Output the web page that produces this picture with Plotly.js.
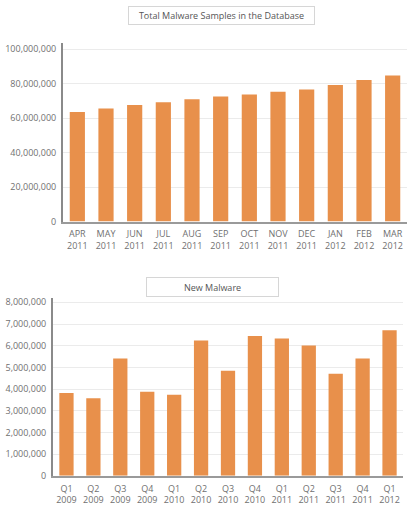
<!DOCTYPE html>
<html>
<head>
<meta charset="utf-8">
<script src="https://cdn.plot.ly/plotly-3.0.1.min.js"></script>
<style>
  html, body { margin: 0; padding: 0; background: #fff; }
  #chart { width: 412px; height: 508px; }
</style>
</head>
<body>
<div id="chart"></div>
<script>
// Monthly totals of malware samples in the database
const monthLabels = ["APR<br>2011", "MAY<br>2011", "JUN<br>2011", "JUL<br>2011", "AUG<br>2011", "SEP<br>2011",
                     "OCT<br>2011", "NOV<br>2011", "DEC<br>2011", "JAN<br>2012", "FEB<br>2012", "MAR<br>2012"];
const totalSamples = [63500000, 65500000, 67600000, 69200000, 70900000, 72500000,
                      73600000, 75200000, 76500000, 79200000, 82100000, 84600000];

// Quarterly counts of new malware
const quarterLabels = ["Q1<br>2009", "Q2<br>2009", "Q3<br>2009", "Q4<br>2009", "Q1<br>2010", "Q2<br>2010",
                       "Q3<br>2010", "Q4<br>2010", "Q1<br>2011", "Q2<br>2011", "Q3<br>2011", "Q4<br>2011", "Q1<br>2012"];
const newMalware = [3820000, 3570000, 5410000, 3870000, 3730000, 6240000,
                    4840000, 6450000, 6330000, 6010000, 4700000, 5410000, 6710000];

const topTicks = [0, 20000000, 40000000, 60000000, 80000000, 100000000];
const bottomTicks = [0, 1000000, 2000000, 3000000, 4000000, 5000000, 6000000, 7000000, 8000000];

const barColor = "#E8904B";
const textColor = "#707070";
const fontFamily = "Open Sans, Noto Sans, sans-serif";

const fmt = v => v.toLocaleString("en-US");

const traces = [
  {
    type: "bar", x: monthLabels, y: totalSamples,
    xaxis: "x", yaxis: "y",
    marker: { color: barColor }, hoverinfo: "skip"
  },
  {
    type: "bar", x: quarterLabels, y: newMalware,
    xaxis: "x2", yaxis: "y2",
    marker: { color: barColor }, hoverinfo: "skip"
  }
];

const axisFont = { family: fontFamily, size: 9, color: textColor };

const xCommon = {
  showline: true, linecolor: "#9a9a9a", linewidth: 2,
  showgrid: false, zeroline: false, ticks: "", ticklabelstandoff: 3,
  tickfont: axisFont, fixedrange: true
};
const yCommon = {
  showline: true, linecolor: "#8a8a8a", linewidth: 2,
  showgrid: true, gridcolor: "#ebebeb", gridwidth: 1,
  zeroline: false, ticks: "", ticklabelstandoff: 3,
  tickfont: axisFont, fixedrange: true
};

const layout = {
  width: 412, height: 508,
  margin: { l: 0, r: 0, t: 0, b: 0 },
  paper_bgcolor: "#ffffff", plot_bgcolor: "#ffffff",
  showlegend: false, bargap: 0.47,
  xaxis: Object.assign({}, xCommon, { domain: [63 / 412, 407 / 412], anchor: "y" }),
  yaxis: Object.assign({}, yCommon, {
    domain: [1 - 221.5 / 508, 1 - 43 / 508], anchor: "x",
    range: [0, 103500000], tickvals: topTicks, ticktext: topTicks.map(fmt)
  }),
  xaxis2: Object.assign({}, xCommon, { domain: [53 / 412, 403 / 412], anchor: "y2" }),
  yaxis2: Object.assign({}, yCommon, {
    domain: [1 - 475.7 / 508, 1 - 298 / 508], anchor: "x2",
    range: [0, 8200000], tickvals: bottomTicks, ticktext: bottomTicks.map(fmt)
  }),
  annotations: [
    {
      text: "Total Malware Samples in the Database",
      xref: "paper", yref: "paper", x: 221.5 / 412, y: 1 - 15.5 / 508,
      xanchor: "center", yanchor: "middle", showarrow: false,
      width: 181, height: 13, borderpad: 2,
      bordercolor: "#d6d6d6", borderwidth: 1, bgcolor: "#ffffff",
      font: { family: fontFamily, size: 9, color: "#555555" }
    },
    {
      text: "New Malware",
      xref: "paper", yref: "paper", x: 212.5 / 412, y: 1 - 287 / 508,
      xanchor: "center", yanchor: "middle", showarrow: false,
      width: 127, height: 14, borderpad: 2,
      bordercolor: "#d6d6d6", borderwidth: 1, bgcolor: "#ffffff",
      font: { family: fontFamily, size: 9, color: "#555555" }
    }
  ]
};

Plotly.newPlot("chart", traces, layout, { staticPlot: true, displayModeBar: false });
</script>
</body>
</html>
